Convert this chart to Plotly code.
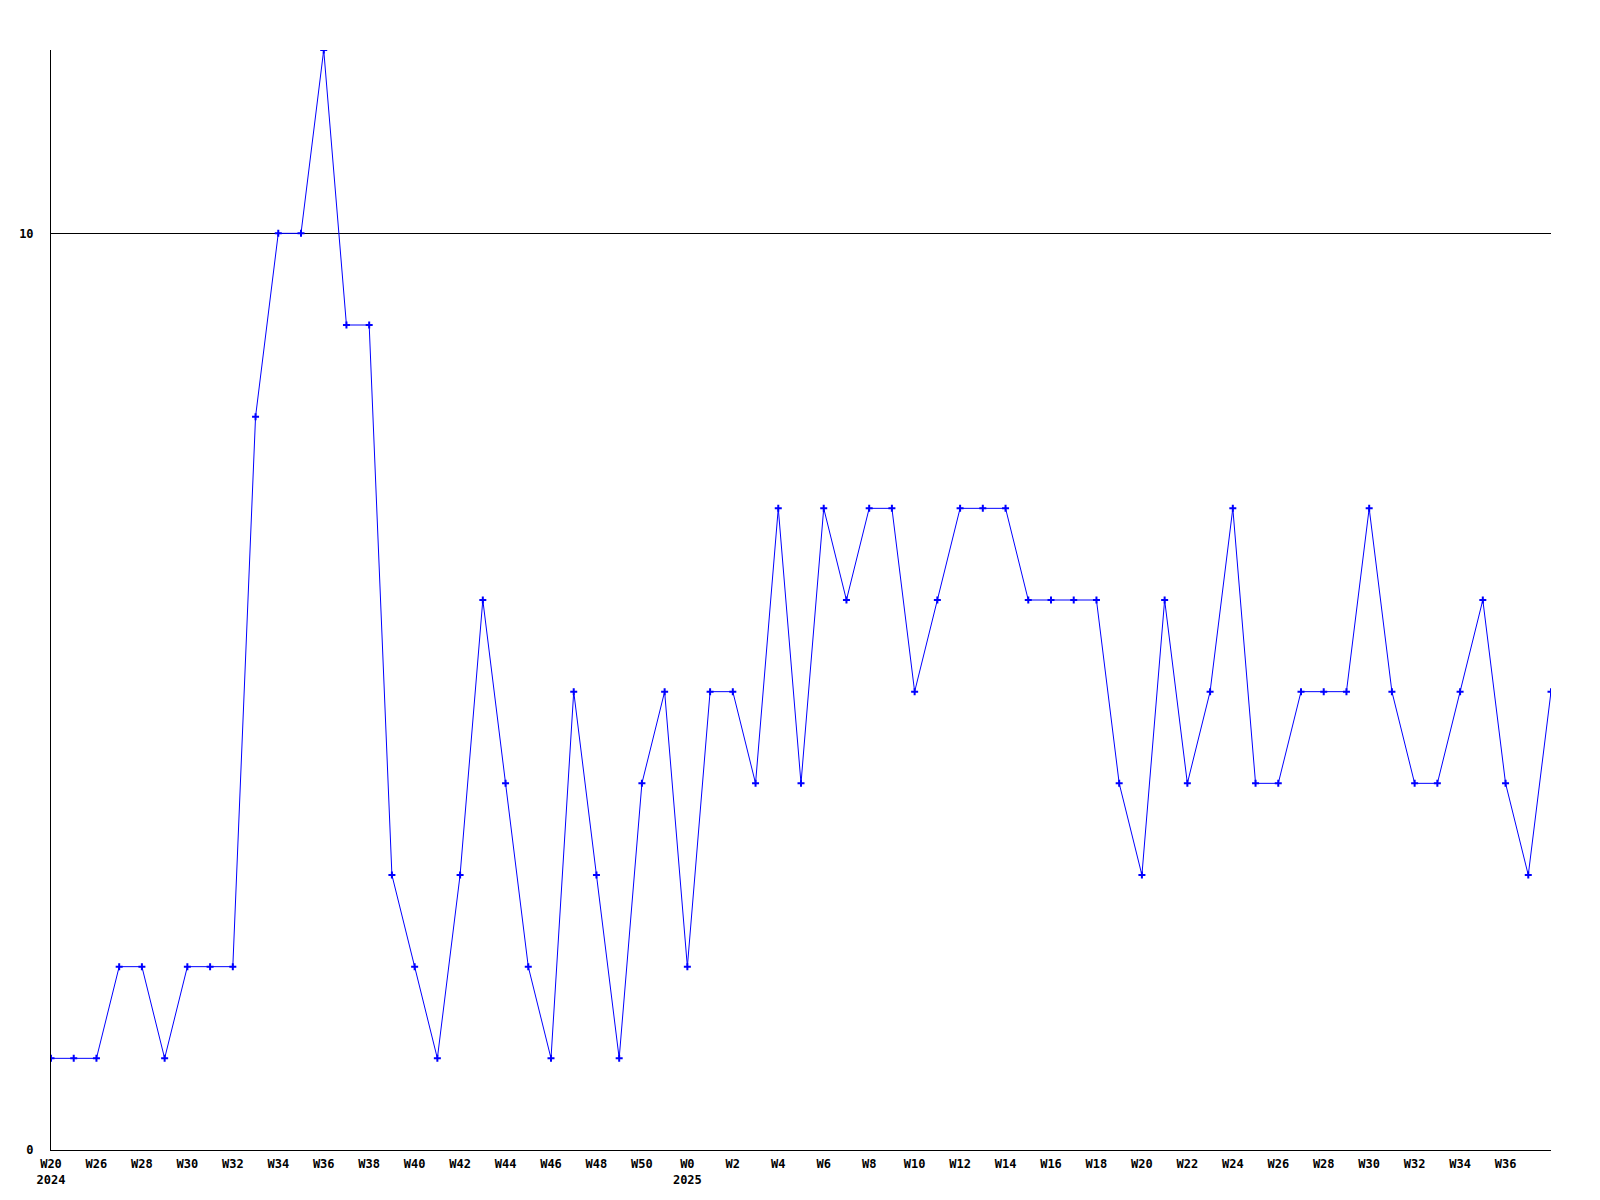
import plotly.graph_objects as go

# Week labels for each point (as printed by the original chart)
weeks = ["W20", "W25", "W26", "W27", "W28", "W29", "W30", "W31", "W32", "W33",
         "W34", "W35", "W36", "W37", "W38", "W39", "W40", "W41", "W42", "W43",
         "W44", "W45", "W46", "W47", "W48", "W49", "W50", "W51", "W0", "W1",
         "W2", "W3", "W4", "W5", "W6", "W7", "W8", "W9", "W10", "W11",
         "W12", "W13", "W14", "W15", "W16", "W17", "W18", "W19", "W20", "W21",
         "W22", "W23", "W24", "W25", "W26", "W27", "W28", "W29", "W30", "W31",
         "W32", "W33", "W34", "W35", "W36", "W37", "W38"]
years = {0: "2024", 28: "2025"}

values = [1, 1, 1, 2, 2, 1, 2, 2, 2, 8,
          10, 10, 12, 9, 9, 3, 2, 1, 3, 6,
          4, 2, 1, 5, 3, 1, 4, 5, 2, 5,
          5, 4, 7, 4, 7, 6, 7, 7, 5, 6,
          7, 7, 7, 6, 6, 6, 6, 4, 3, 6,
          4, 5, 7, 4, 4, 5, 5, 5, 7, 5,
          4, 4, 5, 6, 4, 3, 5]

y_ticks = [0, 10]
y_max = 12

x = list(range(len(values)))
tickvals = [i for i in x if i % 2 == 0 and i <= 64]
ticktext = [weeks[i] + ("<br>" + years[i] if i in years else "") for i in tickvals]

fig = go.Figure()
fig.add_trace(go.Scatter(
    x=x, y=values, mode="lines+markers",
    line=dict(color="#0000ff", width=1),
    marker=dict(symbol="cross-thin", size=5, color="#0000ff",
                line=dict(color="#0000ff", width=2)),
    cliponaxis=True,
    showlegend=False,
))

font = dict(family="DejaVu Sans Mono", size=12, color="black", weight="bold")

fig.update_layout(
    width=1600, height=1200,
    margin=dict(l=43, r=57, t=42, b=58),
    paper_bgcolor="white", plot_bgcolor="white",
    xaxis=dict(
        range=[0, len(values) - 1],
        tickvals=tickvals, ticktext=ticktext,
        showgrid=False, zeroline=False,
        showline=True, linecolor="black", linewidth=1,
        ticks="", tickfont=font, tickangle=0,
        ticklabelstandoff=3, automargin=False,
    ),
    yaxis=dict(
        range=[0, y_max],
        tickvals=y_ticks, ticktext=[str(v) for v in y_ticks],
        showgrid=True, gridcolor="black", gridwidth=1,
        zeroline=False,
        showline=True, linecolor="black", linewidth=1,
        ticks="", tickfont=font, ticklabelstandoff=14,
        automargin=False,
    ),
)

fig.write_html("out.html")
